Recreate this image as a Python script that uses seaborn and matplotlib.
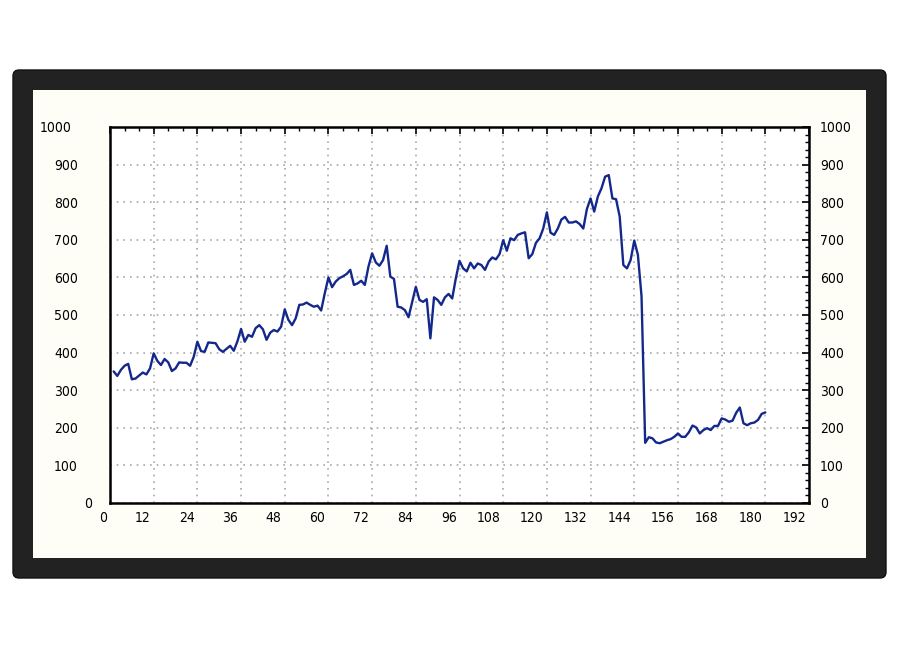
import matplotlib.pyplot as plt
import matplotlib.transforms as mtransforms
from matplotlib.patches import FancyBboxPatch, Rectangle
from matplotlib.ticker import MultipleLocator
import seaborn as sns

# Monthly series
months = list(range(1, 181))
values = [
    350, 338, 354, 365, 370, 329, 331, 339, 347, 342, 358, 398,
    378, 367, 383, 374, 351, 358, 374, 373, 373, 365, 389, 429,
    404, 402, 427, 426, 425, 409, 402, 410, 418, 405, 430, 463,
    429, 447, 442, 465, 473, 462, 434, 453, 460, 456, 469, 515,
    487, 473, 491, 527, 528, 533, 527, 522, 525, 512, 558, 600,
    574, 589, 598, 603, 609, 620, 580, 584, 591, 580, 629, 664,
    640, 631, 646, 684, 602, 596, 522, 520, 513, 494, 535, 575,
    540, 535, 542, 438, 547, 540, 527, 547, 556, 544, 598, 644,
    624, 616, 639, 624, 637, 633, 620, 642, 653, 648, 662, 699,
    671, 704, 699, 713, 717, 720, 651, 662, 692, 704, 730, 773,
    719, 713, 730, 754, 761, 746, 746, 749, 742, 730, 782, 810,
    775, 815, 837, 868, 872, 810, 808, 762, 633, 624, 646, 698,
    660, 550, 160, 175, 172, 161, 159, 163, 167, 170, 176, 185,
    176, 176, 188, 206, 201, 185, 194, 199, 194, 205, 205, 225,
    222, 216, 219, 240, 254, 212, 207, 212, 214, 221, 237, 241,
]
x_ticks = list(range(0, 193, 12))
y_ticks = list(range(0, 1001, 100))
y_labels = [str(v) for v in y_ticks]

sns.set_style('white')
plt.rcParams['font.family'] = ['DejaVu Sans']
plt.rcParams['font.stretch'] = 'condensed'

W, H = 900, 650
fig = plt.figure(figsize=(9, 6.5), dpi=100)
fig.patch.set_facecolor('white')

# dark frame and cream panel behind the chart (pixel coordinates)
px = mtransforms.IdentityTransform()
frame = FancyBboxPatch((13, H - 578), 873, 508, boxstyle='round,pad=0,rounding_size=6',
                       transform=px, facecolor='#222222', edgecolor='#111111', lw=1, zorder=-3)
panel = Rectangle((33, H - 558), 833, 468, transform=px,
                  facecolor='#fefef7', edgecolor='none', zorder=-2)
fig.add_artist(frame)
fig.add_artist(panel)

ax = fig.add_axes([110 / W, 1 - 503 / H, (809 - 110) / W, (503 - 127) / H])
ax.set_facecolor('white')

sns.lineplot(x=months, y=values, ax=ax, color='#14288c', linewidth=1.7)

ax.set_xlim(0, 192)
ax.set_ylim(0, 1000)
ax.set_xticks(x_ticks)
ax.set_yticks(y_ticks)
ax.set_yticklabels(y_labels)
ax.xaxis.set_minor_locator(MultipleLocator(4))
ax.yaxis.set_minor_locator(MultipleLocator(20))
ax.set_xlabel('')
ax.set_ylabel('')

ax.grid(True, which='major', linestyle=(0, (1, 3)), color='#a8a8a8', linewidth=1.2)
ax.tick_params(which='both', direction='in', top=True, right=True,
               labelleft=True, labelright=True, colors='black', labelsize=10)
ax.tick_params(which='major', length=5, width=1.2)
ax.tick_params(which='minor', length=3, width=1.0)
ax.tick_params(axis='x', pad=6)
for s in ax.spines.values():
    s.set_color('black')
    s.set_linewidth(1.8)

# right labels sit close to the spine, left labels far away
ax.tick_params(axis='y', pad=8)
shift_px = {0: 7, 1000: 27}
for tick, v in zip(ax.yaxis.get_major_ticks(), y_ticks):
    dx = shift_px.get(v, 21)
    off = mtransforms.ScaledTranslation(-dx / 100, 0, fig.dpi_scale_trans)
    tick.label1.set_transform(tick.label1.get_transform() + off)

xoff = mtransforms.ScaledTranslation(-3 / 100, 0, fig.dpi_scale_trans)
for lbl in ax.get_xticklabels():
    lbl.set_horizontalalignment('right')
    lbl.set_transform(lbl.get_transform() + xoff)

fig.savefig('out.png', dpi=100)
